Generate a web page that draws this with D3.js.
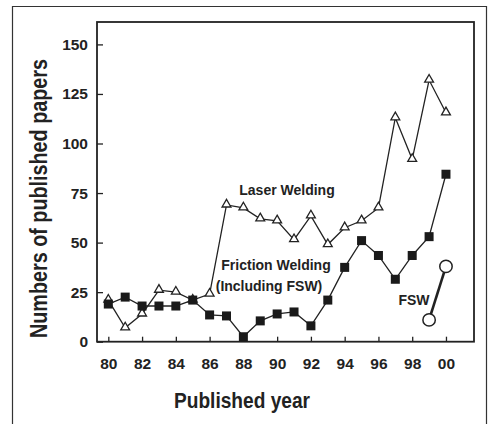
<!DOCTYPE html>
<html lang="en">
	<head>
		<meta charset="utf-8">
		<title>Published papers</title>
		<script type="text/javascript" src="https://cdn.jsdelivr.net/npm/d3@7"></script>
		<style>
			body { margin: 0; background: #fff; }
			text {
				font-family: "Liberation Sans", Arial, sans-serif;
				font-weight: bold;
				fill: #222;
			}
			.axis text { font-size: 15.5px; }
			.axis line { stroke: #222; stroke-width: 1.3; }
		</style>
	</head>
	<body>
		<script type="text/javascript">
			var years = [80, 81, 82, 83, 84, 85, 86, 87, 88, 89, 90, 91, 92, 93, 94, 95, 96, 97, 98, 99, 100];
			var laserValues = [21, 7, 14, 26, 25, 21, 24, 69, 67.5, 62, 61, 51.5, 63.5, 49, 57.5, 61, 67.5, 113, 92, 132, 115.5];
			var frictionValues = [19, 22.5, 18, 18, 18, 21, 13.5, 13, 2.5, 10.5, 14, 15, 8, 21, 37.5, 51, 43.5, 31.5, 43.5, 53, 84.5];
			var fswYears = [99, 100];
			var fswValues = [11, 38];
			var xTicks = [80, 82, 84, 86, 88, 90, 92, 94, 96, 98, 100];
			var xTickLabels = ["80", "82", "84", "86", "88", "90", "92", "94", "96", "98", "00"];
			var yTicks = [0, 25, 50, 75, 100, 125, 150];

			var w = 491;
			var h = 424;
			var plotLeft = 97, plotRight = 474, plotTop = 22, plotBottom = 341.7;

			var svg = d3.select("body")
						.append("svg")
						.attr("width", w)
						.attr("height", h);

			// outer border (open at the bottom, cropped in the original)
			svg.append("path")
			   .attr("d", "M12.5," + h + "V6.5H486.5V" + h)
			   .attr("fill", "none")
			   .attr("stroke", "#333")
			   .attr("stroke-width", 1.2);

			var xScale = d3.scaleLinear()
						   .domain([79.33, 101.66])
						   .range([plotLeft, plotRight]);
			var yScale = d3.scaleLinear()
						   .domain([0, 150])
						   .range([plotBottom, 44.4]);

			// axes, ticks pointing inward
			var xAxis = d3.axisBottom(xScale)
						  .tickValues(xTicks)
						  .tickFormat(function(d, i) { return xTickLabels[i]; })
						  .tickSizeInner(-5)
						  .tickSizeOuter(0)
						  .tickPadding(16);
			var yAxis = d3.axisLeft(yScale)
						  .tickValues(yTicks)
						  .tickSizeInner(-6)
						  .tickSizeOuter(0)
						  .tickPadding(9);

			svg.append("g")
			   .attr("class", "axis")
			   .attr("transform", "translate(0," + plotBottom + ")")
			   .call(xAxis)
			   .call(function(g) { g.select(".domain").remove(); });
			svg.append("g")
			   .attr("class", "axis")
			   .attr("transform", "translate(" + plotLeft + ",0)")
			   .call(yAxis)
			   .call(function(g) { g.select(".domain").remove(); });

			// plot frame
			svg.append("rect")
			   .attr("x", plotLeft)
			   .attr("y", plotTop)
			   .attr("width", plotRight - plotLeft)
			   .attr("height", plotBottom - plotTop)
			   .attr("fill", "none")
			   .attr("stroke", "#222")
			   .attr("stroke-width", 1.8);

			var line = d3.line()
						 .x(function(d) { return xScale(d[0]); })
						 .y(function(d) { return yScale(d[1]); });

			var laser = d3.zip(years, laserValues);
			var friction = d3.zip(years, frictionValues);
			var fsw = d3.zip(fswYears, fswValues);

			svg.append("path")
			   .attr("d", line(laser))
			   .attr("fill", "none")
			   .attr("stroke", "#222")
			   .attr("stroke-width", 1.3);
			svg.append("path")
			   .attr("d", line(friction))
			   .attr("fill", "none")
			   .attr("stroke", "#222")
			   .attr("stroke-width", 1.3);
			svg.append("path")
			   .attr("d", line(fsw))
			   .attr("fill", "none")
			   .attr("stroke", "#222")
			   .attr("stroke-width", 2.6);

			// triangles (laser welding)
			var tri = d3.symbol().type(d3.symbolTriangle).size(34);
			svg.selectAll(".tri")
			   .data(laser)
			   .enter()
			   .append("path")
			   .attr("class", "tri")
			   .attr("d", tri)
			   .attr("transform", function(d) { return "translate(" + xScale(d[0]) + "," + (yScale(d[1]) - 0.5) + ")"; })
			   .attr("fill", "#fff")
			   .attr("stroke", "#222")
			   .attr("stroke-width", 1.3);

			// squares (friction welding)
			svg.selectAll(".sq")
			   .data(friction)
			   .enter()
			   .append("rect")
			   .attr("class", "sq")
			   .attr("x", function(d) { return xScale(d[0]) - 4.5; })
			   .attr("y", function(d) { return yScale(d[1]) - 4.5; })
			   .attr("width", 9)
			   .attr("height", 9)
			   .attr("fill", "#1a1a1a");

			// circles (FSW)
			svg.selectAll(".circ")
			   .data(fsw)
			   .enter()
			   .append("circle")
			   .attr("class", "circ")
			   .attr("cx", function(d) { return xScale(d[0]); })
			   .attr("cy", function(d) { return yScale(d[1]); })
			   .attr("r", 6.2)
			   .attr("fill", "#fff")
			   .attr("stroke", "#222")
			   .attr("stroke-width", 1.5);

			// series labels
			svg.append("text")
			   .attr("x", 287).attr("y", 195)
			   .attr("text-anchor", "middle")
			   .style("font-size", "14px")
			   .text("Laser Welding");
			svg.append("text")
			   .attr("x", 276).attr("y", 270)
			   .attr("text-anchor", "middle")
			   .style("font-size", "14px")
			   .text("Friction Welding");
			svg.append("text")
			   .attr("x", 269).attr("y", 291)
			   .attr("text-anchor", "middle")
			   .style("font-size", "14px")
			   .text("(Including FSW)");
			svg.append("text")
			   .attr("x", 414).attr("y", 305)
			   .attr("text-anchor", "middle")
			   .style("font-size", "14px")
			   .text("FSW");

			// axis titles
			svg.append("text")
			   .attr("x", 242).attr("y", 408)
			   .attr("text-anchor", "middle")
			   .attr("textLength", 136)
			   .attr("lengthAdjust", "spacingAndGlyphs")
			   .style("font-size", "22px")
			   .text("Published year");
			svg.append("text")
			   .attr("transform", "translate(46.5,198.5) rotate(-90)")
			   .attr("text-anchor", "middle")
			   .attr("textLength", 279)
			   .attr("lengthAdjust", "spacingAndGlyphs")
			   .style("font-size", "24px")
			   .text("Numbers of published papers");
		</script>
	</body>
</html>
